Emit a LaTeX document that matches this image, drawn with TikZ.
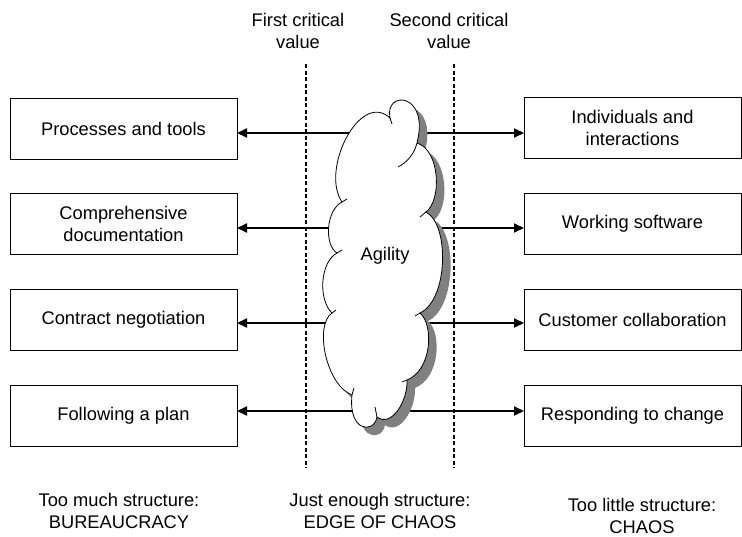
\documentclass[tikz,border=0pt]{standalone}
\usepackage{fontspec}
\setmainfont{Liberation Sans}
\usetikzlibrary{arrows.meta}
\definecolor{shadowgray}{RGB}{128,128,128}
\tikzset{
  box/.style={draw=black, line width=0.9pt, inner sep=0pt, outer sep=0pt, align=center,
              font=\fontsize{18.3}{22}\selectfont},
  lbox/.style={box, minimum width=227pt, minimum height=61pt},
  rbox/.style={box, minimum width=217pt, minimum height=61pt},
  lbl/.style={align=center, inner sep=0pt, font=\fontsize{18.3}{22}\selectfont},
  dbl/.style={line width=2pt, {Triangle[length=10pt,width=9pt]}-{Triangle[length=10pt,width=9pt]}},
  critline/.style={line width=1.4pt, dash pattern=on 4pt off 2.5pt},
  cloudline/.style={draw=black, line width=0.8pt}
}
\def\cloudpath{(390,118) .. controls (384,90) and (430,92) .. (417,143)
  .. controls (440,150) and (442,200) .. (426,212)
  .. controls (450,225) and (448,300) .. (420,313)
  .. controls (434,325) and (432,370) .. (407,380)
  .. controls (408,400) and (392,428) .. (377,417)
  .. controls (374,434) and (348,432) .. (352,395)
  .. controls (326,385) and (314,325) .. (332,313)
  .. controls (318,300) and (320,262) .. (337,253)
  .. controls (324,245) and (326,210) .. (342,202)
  .. controls (320,170) and (360,90) .. (390,118) -- cycle}
\begin{document}
\begin{tikzpicture}[x=1pt,y=-1pt]
\useasboundingbox (0,0) rectangle (742,536);
% boxes
\node[lbox] (L1) at (123.5,128.5) {Processes and tools};
\node[lbox] (L2) at (123.5,223.5) {Comprehensive\\documentation};
\node[lbox] (L3) at (123.5,319.5) {Contract negotiation};
\node[lbox] (L4) at (123.5,416) {Following a plan};
\node[rbox] (R1) at (632.5,127.5) {Individuals and\\interactions};
\node[rbox] (R2) at (632.5,224) {Working software};
\node[rbox] (R3) at (632.5,319.5) {Customer collaboration};
\node[rbox] (R4) at (632.5,416) {Responding to change};
% critical lines
\coordinate (d1t) at (306,64); \coordinate (d1b) at (306,468);
\coordinate (d2t) at (454,64); \coordinate (d2b) at (454,468);
\draw[critline] (d1t) -- (d1b);
\draw[critline] (d2t) -- (d2b);
% arrows
\coordinate (a1) at (380,133);
\coordinate (a2) at (380,228);
\coordinate (a3) at (380,323);
\coordinate (a4) at (380,411);
\draw[dbl] (L1.east |- a1) -- (R1.west |- a1);
\draw[dbl] (L2.east |- a2) -- (R2.west |- a2);
\draw[dbl] (L3.east |- a3) -- (R3.west |- a3);
\draw[dbl] (L4.east |- a4) -- (R4.west |- a4);
% cloud
\fill[shadowgray, shift={(8,8)}] \cloudpath;
\path[cloudline, fill=white] \cloudpath;
\draw[cloudline] (417,143) .. controls (414,155) and (406,163) .. (398,167);
\draw[cloudline] (390,118) -- (392,124);
\draw[cloudline] (377,417) -- (375,407);
\draw[cloudline] (426,212) -- (420,217);
\draw[cloudline] (342,202) -- (347,199);
\draw[cloudline] (352,395) -- (354,388);
\draw[cloudline] (337,253) -- (342,250);
\draw[cloudline] (332,313) -- (336,310);
\draw[cloudline] (420,313) -- (415,316);
\draw[cloudline] (407,380) -- (402,382);
\node[lbl] (ag) at (385,256) {Agility};
% labels
\node[lbl] (t1) at (298,31) {First critical\\value};
\node[lbl] (t2) at (449,31) {Second critical\\value};
\node[lbl] (b1) at (119,511) {Too much structure:\\BUREAUCRACY};
\node[lbl] (b2) at (380,511) {Just enough structure:\\EDGE OF CHAOS};
\node[lbl] (b3) at (642,516) {Too little structure:\\CHAOS};
\end{tikzpicture}
\end{document}
